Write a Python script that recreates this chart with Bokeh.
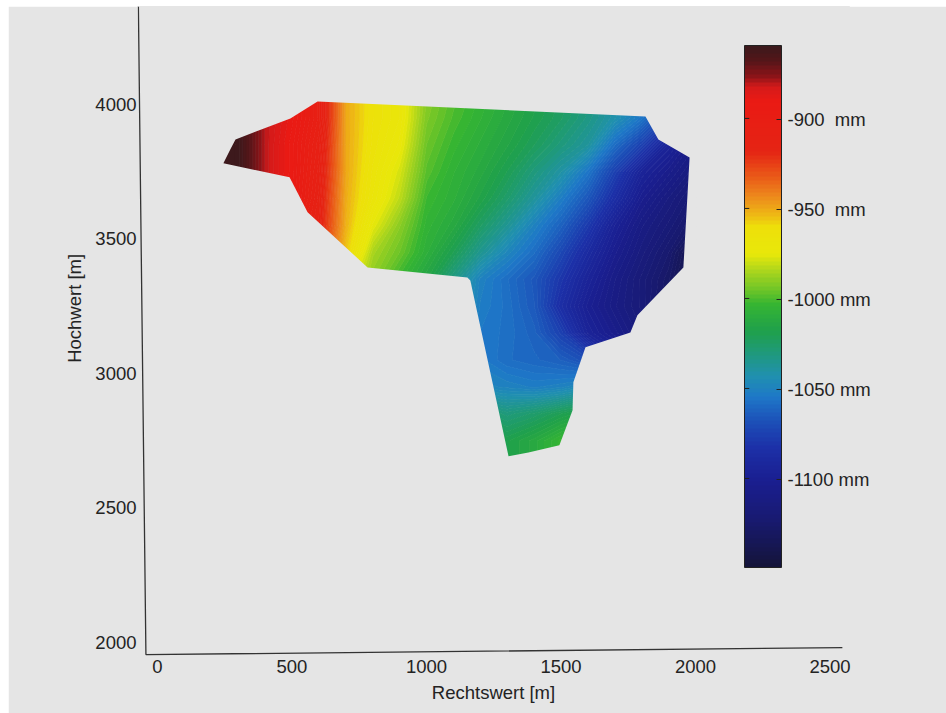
import numpy as np
from bokeh.embed import file_html
from bokeh.resources import INLINE
from bokeh.plotting import figure
from bokeh.models import AllLabels, ColorBar, FixedTicker, LinearColorMapper

# Field: settlement [mm] on a grid (m)
grid_x = [200, 300, 400, 500, 600, 700, 800, 900, 1000, 1100, 1200, 1300, 1400, 1500, 1600, 1700, 1800, 1900, 2000]
grid_y = [4050, 3950, 3850, 3750, 3650, 3550, 3450, 3350, 3250, 3150, 3050, 2950, 2850, 2750, 2650]
row_4050 = [-850, -860, -880, -890, -905, -950, -963, -970, -990, -998, -1004, -1010, -1016, -1022, -1030, -1040, -1052, -1072, -1088]
row_3950 = [-850, -860, -880, -890, -905, -950, -963, -970, -992, -1000, -1006, -1012, -1018, -1024, -1032, -1042, -1055, -1075, -1090]
row_3850 = [-850, -860, -880, -892, -908, -950, -964, -973, -995, -1003, -1009, -1015, -1022, -1030, -1038, -1058, -1075, -1095, -1108]
row_3750 = [-850, -860, -880, -892, -910, -950, -966, -978, -998, -1006, -1012, -1020, -1030, -1040, -1055, -1075, -1095, -1105, -1115]
row_3650 = [-850, -862, -882, -893, -912, -951, -968, -982, -1002, -1008, -1016, -1026, -1038, -1052, -1066, -1085, -1103, -1113, -1122]
row_3550 = [-855, -870, -888, -900, -914, -952, -975, -990, -1005, -1012, -1024, -1036, -1050, -1062, -1078, -1097, -1110, -1118, -1128]
row_3450 = [-860, -880, -895, -910, -920, -956, -985, -995, -1008, -1020, -1035, -1048, -1058, -1072, -1088, -1103, -1114, -1124, -1142]
row_3350 = [-870, -890, -905, -925, -945, -970, -990, -1003, -1015, -1032, -1050, -1058, -1066, -1080, -1095, -1108, -1118, -1128, -1145]
row_3250 = [-880, -900, -915, -935, -955, -975, -990, -1005, -1020, -1035, -1052, -1057, -1065, -1085, -1100, -1110, -1118, -1130, -1145]
row_3150 = [-890, -905, -920, -940, -960, -980, -995, -1010, -1025, -1038, -1054, -1057, -1062, -1075, -1095, -1105, -1115, -1125, -1140]
row_3050 = [-895, -910, -925, -945, -965, -985, -1000, -1015, -1030, -1040, -1053, -1058, -1060, -1063, -1070, -1090, -1100, -1110, -1120]
row_2950 = [-900, -915, -930, -950, -970, -990, -1005, -1020, -1030, -1040, -1048, -1050, -1052, -1050, -1045, -1060, -1075, -1090, -1100]
row_2850 = [-905, -920, -935, -955, -975, -995, -1005, -1015, -1020, -1024, -1025, -1030, -1026, -1020, -1015, -1020, -1030, -1040, -1050]
row_2750 = [-910, -925, -940, -960, -980, -995, -1005, -1010, -1012, -1014, -1015, -1018, -1012, -1003, -998, -1000, -1005, -1010, -1015]
row_2650 = [-910, -925, -940, -960, -980, -995, -1005, -1010, -1012, -1014, -1015, -1018, -1012, -1003, -998, -1000, -1005, -1010, -1015]
field = [row_4050, row_3950, row_3850, row_3750, row_3650, row_3550, row_3450, row_3350,
         row_3250, row_3150, row_3050, row_2950, row_2850, row_2750, row_2650]

# Outline of the measured area (m)
area_x = [595, 1814, 1862, 1978, 1955, 1784, 1758, 1591, 1546, 1543, 1494, 1379, 1305, 1163, 1152, 781, 558, 491, 245, 271, 290, 494]
area_y = [4011, 3955, 3870, 3803, 3394, 3216, 3152, 3097, 2967, 2863, 2733, 2706, 2692, 3346, 3357, 3394, 3599, 3729, 3781, 3833, 3870, 3948]

# Colour scale
scale_vals = [-859, -868, -876, -882, -890, -918, -932, -943, -954, -960, -975, -985, -995, -1003, -1018, -1029, -1043, -1054, -1068, -1082, -1101, -1123, -1149]
scale_cols = ["#3a1a1c", "#551519", "#8c1418", "#d51a1a", "#ea1a14", "#e52414", "#ea5a18", "#ed8a1c", "#eebb14", "#eee00a", "#e8e80a", "#a8d41e",
              "#6cc428", "#35b532", "#1fa04c", "#1f9a78", "#2090b0", "#1e78c8", "#1c50b8", "#1c30a8", "#1a1e90", "#181a70", "#141438"]
bar_ticks = [-900, -950, -1000, -1050, -1100]
bar_labels = {-900: "-900\u00a0\u00a0mm", -950: "-950\u00a0\u00a0mm", -1000: "-1000 mm", -1050: "-1050 mm", -1100: "-1100 mm"}
x_ticks = [0, 500, 1000, 1500, 2000, 2500]
y_ticks = [2000, 2500, 3000, 3500, 4000]

BG = "#e5e5e5"
INK = "#232323"
LOW, HIGH, NBANDS = -1149, -859, 128

rgb = np.array([[int(c[i:i + 2], 16) for i in (1, 3, 5)] for c in scale_cols], float)
sv = np.array(scale_vals[::-1], float)
rgb = rgb[::-1]
edges = np.linspace(LOW, HIGH, NBANDS + 1)
mids = (edges[:-1] + edges[1:]) / 2
def col(v):
    return "#%02x%02x%02x" % tuple(int(round(np.interp(v, sv, rgb[:, k]))) for k in range(3))
palette = [col(v) for v in mids]

p = figure(width=938, height=707, frame_width=712, frame_height=650, output_backend="svg", toolbar_location=None,
           x_range=(-74.3, 2572.5), y_range=(1948, 4364), min_border_left=129, min_border_top=0, min_border_right=97,
           min_border_bottom=57, background_fill_color=BG, border_fill_color=BG, outline_line_color=BG,
           margin=(6, 0, 0, 8))
p.grid.visible = False

levels = [-1400.0] + list(edges) + [-700.0]
fills = [palette[0]] + palette + [palette[-1]]
lines = [palette[0]] + palette + [palette[-1], palette[-1]]
p.contour(np.array(grid_x, float), np.array(grid_y[::-1], float), np.array(field[::-1], float), levels,
          fill_color=fills, line_color=lines, line_width=1)

# background surround leaves only the measured area visible
outer_x = [min(grid_x) - 5, max(grid_x) + 5, max(grid_x) + 5, min(grid_x) - 5]
outer_y = [min(grid_y) - 5, min(grid_y) - 5, max(grid_y) + 5, max(grid_y) + 5]
p.multi_polygons(xs=[[[outer_x, area_x]]], ys=[[[outer_y, area_y]]], fill_color=BG, line_color=None)

# slightly skewed axis lines of the scanned sheet
p.line([-71, -43, 2546], [4364, 1955, 1981], line_color="#333333", line_width=1.3)

for ax, tk in ((p.xaxis[0], x_ticks), (p.yaxis[0], y_ticks)):
    ax.ticker = FixedTicker(ticks=tk)
    ax.axis_line_color = None
    ax.major_tick_line_color = None
    ax.minor_tick_line_color = None
    ax.major_tick_out = 0
    ax.minor_tick_out = 0
    ax.major_label_text_font = "Liberation Sans"
    ax.major_label_text_font_size = "18.5px"
    ax.major_label_text_color = INK
    ax.axis_label_text_font = "Liberation Sans"
    ax.axis_label_text_font_size = "18.5px"
    ax.axis_label_text_font_style = "normal"
    ax.axis_label_text_color = INK
p.xaxis.axis_label = "Rechtswert [m]"
# leading no-break spaces lift the title to where the sheet has it, above the middle of the axis
p.yaxis.axis_label = "\u00a0" * 9 + "Hochwert [m]"
p.xaxis.major_label_standoff = 3
p.yaxis.major_label_standoff = 1
p.xaxis.axis_label_standoff = 6
p.yaxis.axis_label_standoff = 7
p.yaxis.major_label_orientation = "horizontal"

mapper = LinearColorMapper(palette=palette, low=LOW, high=HIGH)
bar = ColorBar(color_mapper=mapper, ticker=FixedTicker(ticks=bar_ticks), major_label_overrides=bar_labels,
               major_label_policy=AllLabels(),
               width=37, height=522, location=(607, 89), margin=0, padding=0,
               background_fill_color=None, border_line_color=None, bar_line_color="#222222",
               major_tick_line_color="#222222", major_tick_in=5, major_tick_out=0, minor_tick_line_color=None,
               major_label_text_font="Liberation Sans", major_label_text_font_size="18.5px", major_label_text_color=INK,
               label_standoff=6)
p.add_layout(bar, "center")

# the colour bar's ticks also show on its left edge
tick_y = [2 * 0 + (4000 - (118 + (-900 - v) * 1.8 - 104) / 0.269) for v in bar_ticks]
p.segment(x0=[2182] * len(tick_y), x1=[2200] * len(tick_y), y0=tick_y, y1=tick_y,
          line_color="#222222", line_width=1, level="overlay")

open("out.html", "w").write(file_html(p, INLINE))
